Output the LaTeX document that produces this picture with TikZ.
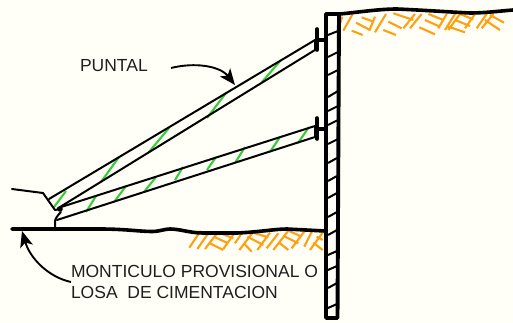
\documentclass[tikz,border=0pt]{standalone}
\usepackage{fontspec}
\setmainfont{Liberation Sans}
\usetikzlibrary{arrows.meta}
\definecolor{paper}{HTML}{FFFFF8}
\definecolor{soil}{HTML}{FFA010}
\definecolor{brace}{HTML}{38CC38}
\tikzset{
  heavy/.style={line width=3.6pt,line cap=round,line join=round},
  thin line/.style={line width=2pt,line cap=round,line join=round},
  wallhatch/.style={line width=2pt},
  soilhatch/.style={draw=soil,line width=2.1pt},
  bracehatch/.style={draw=brace,line width=2.1pt},
  leader/.style={line width=1.9pt,-{Stealth[length=16pt,width=13pt,inset=4pt]}},
  label/.style={inner sep=0pt,outer sep=0pt,anchor=base west,font=\fontsize{17.5}{20}\selectfont,text=black!88}
}
\begin{document}
\begin{tikzpicture}[x=1pt,y=-1pt]
\useasboundingbox (0,0) rectangle (513,323);
\fill[paper] (0,0) rectangle (513,323);
% soil hatching, top
\begin{scope}[shift={(280,0)},x=0.3333pt,y=-0.3333pt]
\draw[soilhatch]
 (180,72)--(187,50) (190,92)--(218,42) (215,92)--(248,105) (228,68)--(270,90) (245,52)--(280,65) (268,92)--(285,50)
 (285,97)--(318,42) (310,90)--(348,105) (325,65)--(365,85) (340,40)--(400,60) (370,85)--(405,42)
 (390,85)--(425,42) (418,82)--(465,103) (435,60)--(480,80) (445,42)--(490,60) (475,85)--(500,42)
 (495,90)--(525,42) (505,90)--(540,42) (505,80)--(555,97) (525,60)--(570,78) (540,42)--(580,58) (555,85)--(585,42)
 (590,85)--(620,42) (605,85)--(640,42) (615,60)--(660,90) (630,45)--(672,68);
\end{scope}
% soil hatching, bottom
\begin{scope}[shift={(170,200)},x=0.3333pt,y=-0.3333pt]
\draw[soilhatch]
 (58,143)--(92,92) (82,147)--(118,95) (105,147)--(145,95) (120,130)--(160,150) (135,112)--(175,130) (145,97)--(190,115) (160,147)--(193,100)
 (195,130)--(215,100) (208,150)--(248,98) (222,130)--(245,155) (232,110)--(280,135) (245,97)--(295,112) (262,150)--(300,98)
 (290,145)--(325,100) (310,150)--(355,92) (330,130)--(355,150) (345,110)--(385,130) (355,92)--(395,110) (365,145)--(405,92)
 (403,140)--(428,90) (420,150)--(458,98) (430,128)--(458,150) (440,110)--(458,120);
\end{scope}
% green ties
\draw[bracehatch] (54,207)--(66,191) (101,182)--(119,157) (149,152)--(169,128) (207,118)--(226,93) (262,82)--(281,60);
\draw[bracehatch] (86,212)--(96,196) (114,202)--(126,186) (144,192)--(156,177) (175,180)--(183,167) (207,170)--(216,157) (235,163)--(245,147) (270,152)--(280,137) (298,143)--(309,127);
% struts
\coordinate (upA) at (49,199); \coordinate (upB) at (315,40);
\coordinate (upC) at (60,207); \coordinate (upD) at (315,50);
\coordinate (loA) at (58,208); \coordinate (loB) at (315,126);
\coordinate (loC) at (57,220); \coordinate (loD) at (315,137);
\draw[thin line] (upA)--(upB) (upC)--(upD) (upB)--(upD);
\draw[thin line] (loA)--(loB) (loC)--(loD) (loB)--(loD);
% plates
\draw[heavy] (317,29)--(317,50) (317,40)--(326,40);
\draw[heavy] (317,118)--(317,139) (317,129)--(326,129);
% wall
\draw[wallhatch] (328,35)--(338,31) (328,57)--(338,52) (328,75)--(338,70) (328,97)--(338,91) (328,111)--(338,106) (328,125)--(338,120) (328,144)--(338,139)
 (328,163)--(337,158) (328,181)--(337,176) (328,198)--(337,193)
 (328,217)--(337,212) (328,235)--(337,230) (328,255)--(337,251) (328,270)--(337,266) (328,288)--(337,283) (328,308)--(337,304);
\draw[heavy,line width=3.9pt] (326,14) -- (326,318) -- (337.5,318) -- (339,14);
% ground
\draw[heavy] (326,14) -- (340,14) .. controls (360,12) and (380,9) .. (397,9) .. controls (420,10) and (450,12) .. (470,13) .. controls (485,13) and (500,11) .. (513,10);
\draw[heavy] (12,229) -- (100,229) .. controls (125,229) and (140,231.5) .. (152,231.5) .. controls (160,231.5) and (164,229) .. (170,229) .. controls (180,229) and (190,233) .. (203,233) -- (237,233) .. controls (260,232) and (275,229) .. (287,229) -- (325,231);
% left mound
\draw[thin line] (12,189) -- (43,193) -- (55,210) -- (60,209) (61,212) .. controls (57,216) and (55,219) .. (55,222) -- (55,228);
\fill (60,209) circle (2.8pt);
% labels
\node[label] (punt) at (80,72) {PUNTAL};
\node[label] (mont) at (71,277) {MONTICULO PROVISIONAL O};
\node[label] (losa) at (71,298) {LOSA\ \ DE CIMENTACION};
\coordinate (ptip) at (235,85);
\coordinate (gtip) at (22,231);
\draw[leader] (171,68) .. controls (195,62) and (220,66) .. (ptip);
\draw[leader] (71,282) .. controls (48,277) and (30,258) .. (gtip);
\end{tikzpicture}
\end{document}
